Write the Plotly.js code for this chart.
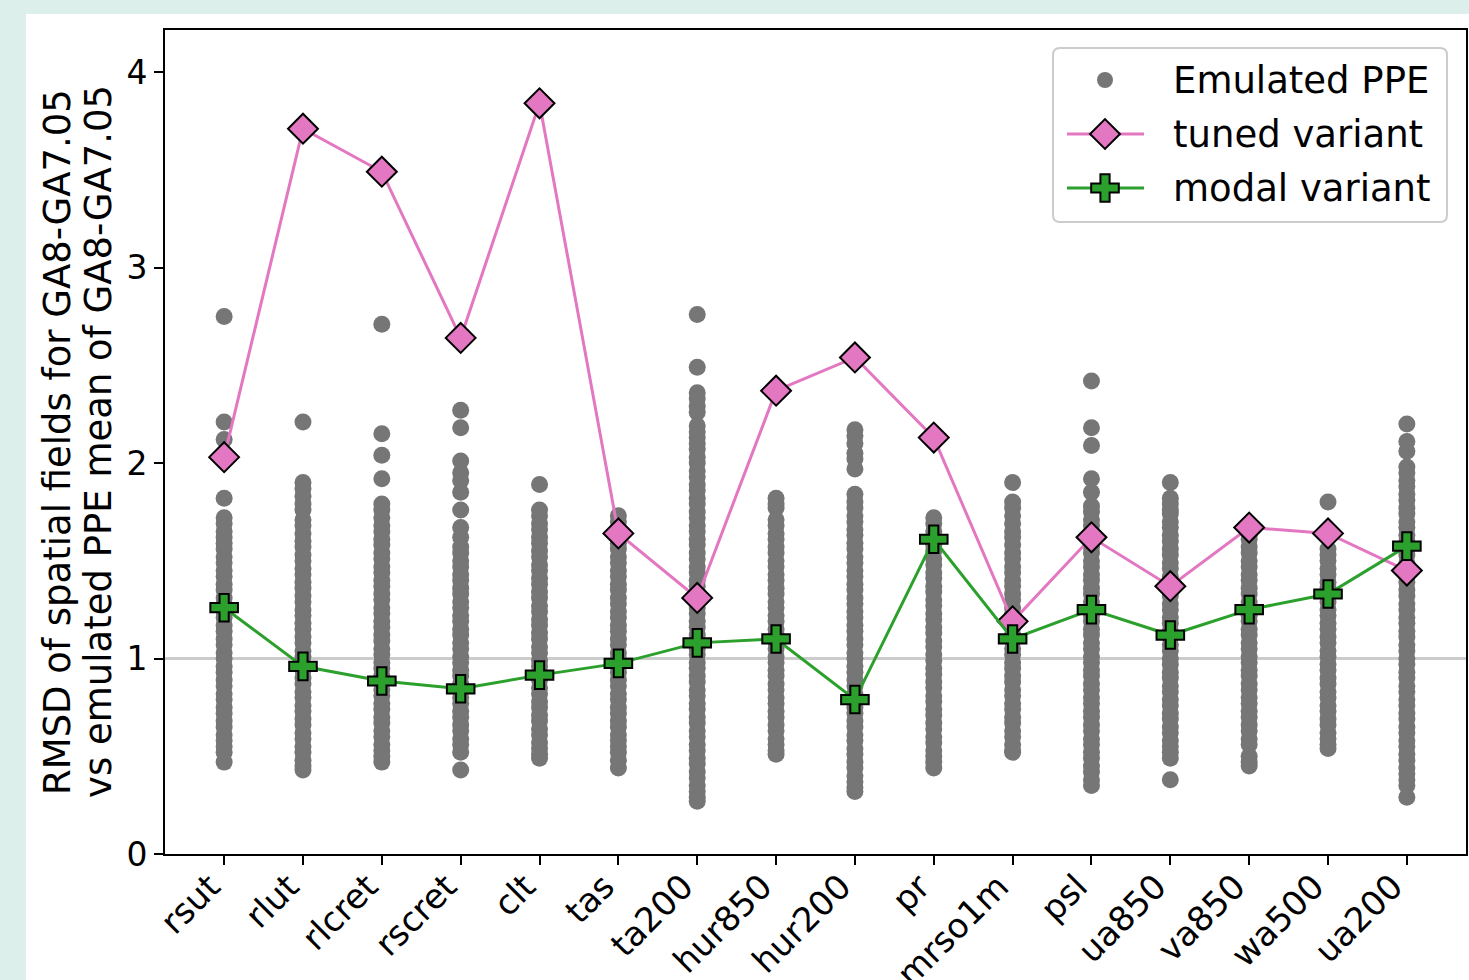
<!DOCTYPE html>
<html>
<head>
<meta charset="utf-8">
<script src="https://cdn.plot.ly/plotly-3.0.1.min.js"></script>
<style>
  html, body { margin: 0; padding: 0; background: #dcefeb; width: 1469px; height: 980px; overflow: hidden; }
  #chart { position: absolute; left: 26px; top: 14px; width: 1443px; height: 966px; background: #ffffff; }
</style>
</head>
<body>
<div id="chart"></div>
<script>
// Output fields compared against the GA8-GA7.05 emulated PPE mean
const categories = ['rsut', 'rlut', 'rlcret', 'rscret', 'clt', 'tas', 'ta200', 'hur850',
                    'hur200', 'pr', 'mrso1m', 'psl', 'ua850', 'va850', 'wa500', 'ua200'];

// RMSD of the tuned and modal variants
const tunedVariant = [2.03, 3.71, 3.49, 2.64, 3.84, 1.64, 1.31, 2.37,
                      2.54, 2.13, 1.19, 1.62, 1.37, 1.67, 1.64, 1.45];
const modalVariant = [1.26, 0.96, 0.885, 0.845, 0.915, 0.975, 1.08, 1.10,
                      0.79, 1.61, 1.10, 1.25, 1.12, 1.25, 1.33, 1.575];

// Emulated PPE members, one list per field
const ppeRsut = [2.75, 2.21, 2.12, 1.82, 1.72, 1.69, 1.65, 1.62, 1.59, 1.56, 1.52, 1.49, 1.45, 1.42, 1.38, 1.35,
  1.31, 1.28, 1.24, 1.21, 1.17, 1.14, 1.10, 1.07, 1.03, 1.00, 0.96, 0.93, 0.89, 0.86, 0.82, 0.79, 0.75, 0.72,
  0.68, 0.65, 0.61, 0.58, 0.55, 0.52, 0.47];
const ppeRlut = [2.21, 1.90, 1.87, 1.83, 1.79, 1.76, 1.71, 1.68, 1.64, 1.60, 1.57, 1.53, 1.50, 1.46, 1.43, 1.39,
  1.36, 1.32, 1.29, 1.25, 1.22, 1.18, 1.15, 1.11, 1.08, 1.04, 1.01, 0.97, 0.94, 0.90, 0.87, 0.83, 0.80, 0.76,
  0.73, 0.69, 0.66, 0.62, 0.59, 0.55, 0.52, 0.48, 0.45, 0.43];
const ppeRlcret = [2.71, 2.15, 2.04, 1.92, 1.79, 1.76, 1.72, 1.68, 1.65, 1.61, 1.58, 1.54, 1.51, 1.47, 1.44, 1.40,
  1.37, 1.33, 1.30, 1.26, 1.23, 1.19, 1.16, 1.12, 1.09, 1.05, 1.02, 0.98, 0.95, 0.91, 0.88, 0.84, 0.81, 0.77,
  0.74, 0.70, 0.67, 0.63, 0.60, 0.56, 0.53, 0.50, 0.47];
const ppeRscret = [2.27, 2.18, 2.01, 1.95, 1.91, 1.85, 1.76, 1.67, 1.62, 1.57, 1.54, 1.50, 1.47, 1.43, 1.40, 1.36,
  1.33, 1.29, 1.26, 1.22, 1.19, 1.15, 1.12, 1.08, 1.05, 1.01, 0.98, 0.94, 0.91, 0.87, 0.84, 0.80, 0.77, 0.73,
  0.70, 0.66, 0.63, 0.59, 0.56, 0.52, 0.43];
const ppeClt = [1.89, 1.76, 1.73, 1.69, 1.66, 1.62, 1.59, 1.55, 1.52, 1.48, 1.45, 1.41, 1.38, 1.34, 1.31, 1.27,
  1.24, 1.20, 1.17, 1.13, 1.10, 1.06, 1.03, 0.99, 0.96, 0.92, 0.89, 0.85, 0.82, 0.78, 0.75, 0.71, 0.68, 0.64,
  0.61, 0.57, 0.54, 0.51, 0.49];
const ppeTas = [1.73, 1.70, 1.66, 1.63, 1.59, 1.56, 1.52, 1.49, 1.45, 1.42, 1.38, 1.35, 1.31, 1.28, 1.24, 1.21,
  1.17, 1.14, 1.10, 1.07, 1.03, 1.00, 0.96, 0.93, 0.89, 0.86, 0.82, 0.79, 0.75, 0.72, 0.68, 0.65, 0.61, 0.58,
  0.55, 0.52, 0.48, 0.44];
const ppeTa200 = [2.76, 2.49, 2.36, 2.33, 2.29, 2.26, 2.19, 2.16, 2.13, 2.10, 2.07, 2.03, 2.00, 1.96, 1.93, 1.89,
  1.86, 1.82, 1.79, 1.75, 1.72, 1.68, 1.65, 1.61, 1.58, 1.54, 1.51, 1.47, 1.44, 1.40, 1.37, 1.33, 1.30, 1.26,
  1.23, 1.19, 1.16, 1.12, 1.09, 1.05, 1.02, 0.98, 0.95, 0.91, 0.88, 0.84, 0.81, 0.77, 0.74, 0.70, 0.67, 0.63,
  0.60, 0.56, 0.53, 0.49, 0.46, 0.42, 0.39, 0.35, 0.32, 0.29, 0.27];
const ppeHur850 = [1.82, 1.79, 1.77, 1.71, 1.68, 1.64, 1.61, 1.57, 1.54, 1.50, 1.47, 1.43, 1.40, 1.36, 1.33, 1.29,
  1.26, 1.22, 1.19, 1.15, 1.12, 1.08, 1.05, 1.01, 0.98, 0.94, 0.91, 0.87, 0.84, 0.80, 0.77, 0.73, 0.70, 0.66,
  0.63, 0.59, 0.56, 0.53, 0.51];
const ppeHur200 = [2.17, 2.14, 2.10, 2.05, 2.02, 1.97, 1.84, 1.80, 1.77, 1.73, 1.70, 1.66, 1.63, 1.59, 1.56, 1.52,
  1.49, 1.45, 1.42, 1.38, 1.35, 1.31, 1.28, 1.24, 1.21, 1.17, 1.14, 1.10, 1.07, 1.03, 1.00, 0.96, 0.93, 0.89,
  0.86, 0.82, 0.79, 0.75, 0.72, 0.68, 0.65, 0.61, 0.58, 0.54, 0.51, 0.47, 0.44, 0.40, 0.37, 0.34, 0.32];
const ppePr = [1.72, 1.69, 1.65, 1.62, 1.58, 1.55, 1.51, 1.48, 1.44, 1.41, 1.37, 1.34, 1.30, 1.27, 1.23, 1.20,
  1.16, 1.13, 1.09, 1.06, 1.02, 0.99, 0.95, 0.92, 0.88, 0.85, 0.81, 0.78, 0.74, 0.71, 0.67, 0.64, 0.60, 0.57,
  0.53, 0.50, 0.47, 0.44];
const ppeMrso1m = [1.90, 1.80, 1.77, 1.73, 1.69, 1.65, 1.62, 1.58, 1.54, 1.51, 1.47, 1.44, 1.40, 1.37, 1.33, 1.30,
  1.26, 1.23, 1.19, 1.16, 1.12, 1.09, 1.05, 1.02, 0.98, 0.95, 0.91, 0.88, 0.84, 0.81, 0.77, 0.74, 0.70, 0.67,
  0.63, 0.60, 0.56, 0.53, 0.52];
const ppePsl = [2.42, 2.18, 2.09, 1.92, 1.85, 1.78, 1.75, 1.71, 1.68, 1.64, 1.61, 1.57, 1.54, 1.50, 1.47, 1.43,
  1.40, 1.36, 1.33, 1.29, 1.26, 1.22, 1.19, 1.15, 1.12, 1.08, 1.05, 1.01, 0.98, 0.94, 0.91, 0.87, 0.84, 0.80,
  0.77, 0.73, 0.70, 0.66, 0.63, 0.59, 0.56, 0.52, 0.49, 0.45, 0.42, 0.38, 0.35];
const ppeUa850 = [1.90, 1.82, 1.79, 1.76, 1.74, 1.70, 1.67, 1.63, 1.60, 1.56, 1.53, 1.49, 1.46, 1.42, 1.39, 1.35,
  1.32, 1.28, 1.25, 1.21, 1.18, 1.14, 1.11, 1.07, 1.04, 1.00, 0.97, 0.93, 0.90, 0.86, 0.83, 0.79, 0.76, 0.72,
  0.69, 0.65, 0.62, 0.58, 0.55, 0.52, 0.49, 0.38];
const ppeVa850 = [1.63, 1.61, 1.57, 1.54, 1.50, 1.47, 1.43, 1.40, 1.36, 1.33, 1.29, 1.26, 1.22, 1.19, 1.15, 1.12,
  1.08, 1.05, 1.01, 0.98, 0.94, 0.91, 0.87, 0.84, 0.80, 0.77, 0.73, 0.70, 0.66, 0.63, 0.59, 0.56, 0.50, 0.47,
  0.45];
const ppeWa500 = [1.80, 1.56, 1.53, 1.50, 1.46, 1.43, 1.39, 1.36, 1.32, 1.29, 1.25, 1.22, 1.18, 1.15, 1.11, 1.08,
  1.04, 1.01, 0.97, 0.94, 0.90, 0.87, 0.83, 0.80, 0.76, 0.73, 0.69, 0.66, 0.62, 0.59, 0.56, 0.54];
const ppeUa200 = [2.20, 2.11, 2.06, 1.98, 1.95, 1.91, 1.88, 1.84, 1.81, 1.77, 1.74, 1.70, 1.67, 1.63, 1.60, 1.56,
  1.53, 1.49, 1.46, 1.42, 1.39, 1.35, 1.32, 1.28, 1.25, 1.21, 1.18, 1.14, 1.11, 1.07, 1.04, 1.00, 0.97, 0.93,
  0.90, 0.86, 0.83, 0.79, 0.76, 0.72, 0.69, 0.65, 0.62, 0.58, 0.55, 0.51, 0.48, 0.44, 0.41, 0.38, 0.35, 0.29];

const ppeColumns = [ppeRsut, ppeRlut, ppeRlcret, ppeRscret, ppeClt, ppeTas, ppeTa200, ppeHur850,
                    ppeHur200, ppePr, ppeMrso1m, ppePsl, ppeUa850, ppeVa850, ppeWa500, ppeUa200];

const yTicks = [0, 1, 2, 3, 4];
const referenceLevel = 1;
const legendLabels = ['Emulated PPE', 'tuned variant', 'modal variant'];

// ---- styling ----
const FONT = 'DejaVu Sans, Liberation Sans, sans-serif';
const GREY = '#767676';
const PINK = '#e377c2';
const GREEN = '#2ca02c';
const W = 1443, H = 966;
const M = {l: 139, r: 3, t: 16, b: 126};
const PW = W - M.l - M.r;   // plot width in px
const PH = H - M.t - M.b;   // plot height in px

// flatten the PPE columns into one scatter trace
const ppeX = [], ppeY = [];
ppeColumns.forEach((col, i) => col.forEach(v => { ppeX.push(categories[i]); ppeY.push(v); }));

const traces = [
  {
    type: 'scatter', mode: 'markers', x: ppeX, y: ppeY, name: legendLabels[0],
    marker: {color: GREY, size: 17, line: {width: 0}},
    showlegend: false, hoverinfo: 'skip'
  },
  {
    type: 'scatter', mode: 'lines+markers', x: categories, y: tunedVariant, name: legendLabels[1],
    line: {color: PINK, width: 3},
    marker: {symbol: 'diamond', color: PINK, size: 23, line: {color: '#000000', width: 2}},
    showlegend: false
  },
  {
    type: 'scatter', mode: 'lines+markers', x: categories, y: modalVariant, name: legendLabels[2],
    line: {color: GREEN, width: 3},
    marker: {symbol: 'cross', color: GREEN, size: 23, line: {color: '#000000', width: 2}},
    showlegend: false
  }
];

// legend drawn on a hidden pixel-unit overlay axis pair (x2/y2)
const LG = {x0: 888, x1: 1282, y0: 18, y1: 192, r: 7, sampleX: 940, lineX0: 902, lineX1: 979,
            textX: 1006, rows: [50, 104, 158]};
traces.push(
  {type: 'scatter', mode: 'markers', xaxis: 'x2', yaxis: 'y2', x: [LG.sampleX], y: [LG.rows[0]],
   marker: {color: GREY, size: 16}, showlegend: false, hoverinfo: 'skip'},
  {type: 'scatter', mode: 'lines', xaxis: 'x2', yaxis: 'y2', x: [LG.lineX0, LG.lineX1], y: [LG.rows[1], LG.rows[1]],
   line: {color: PINK, width: 3}, showlegend: false, hoverinfo: 'skip'},
  {type: 'scatter', mode: 'markers', xaxis: 'x2', yaxis: 'y2', x: [LG.sampleX], y: [LG.rows[1]],
   marker: {symbol: 'diamond', color: PINK, size: 23, line: {color: '#000000', width: 2}}, showlegend: false, hoverinfo: 'skip'},
  {type: 'scatter', mode: 'lines', xaxis: 'x2', yaxis: 'y2', x: [LG.lineX0, LG.lineX1], y: [LG.rows[2], LG.rows[2]],
   line: {color: GREEN, width: 3}, showlegend: false, hoverinfo: 'skip'},
  {type: 'scatter', mode: 'markers', xaxis: 'x2', yaxis: 'y2', x: [LG.sampleX], y: [LG.rows[2]],
   marker: {symbol: 'cross', color: GREEN, size: 23, line: {color: '#000000', width: 2}}, showlegend: false, hoverinfo: 'skip'}
);

const r = LG.r;
const legendBox = `M ${LG.x0 + r},${LG.y0} L ${LG.x1 - r},${LG.y0} Q ${LG.x1},${LG.y0} ${LG.x1},${LG.y0 + r} ` +
  `L ${LG.x1},${LG.y1 - r} Q ${LG.x1},${LG.y1} ${LG.x1 - r},${LG.y1} L ${LG.x0 + r},${LG.y1} ` +
  `Q ${LG.x0},${LG.y1} ${LG.x0},${LG.y1 - r} L ${LG.x0},${LG.y0 + r} Q ${LG.x0},${LG.y0} ${LG.x0 + r},${LG.y0} Z`;

const layout = {
  width: W, height: H,
  margin: M,
  paper_bgcolor: '#ffffff', plot_bgcolor: '#ffffff',
  font: {family: FONT, color: '#000000', size: 33},
  showlegend: false,
  xaxis: {
    type: 'category', categoryorder: 'array', categoryarray: categories,
    range: [-0.75, categories.length - 0.25],
    showgrid: false, zeroline: false,
    showline: true, mirror: true, linecolor: '#000000', linewidth: 2,
    ticks: 'outside', ticklen: 9, tickwidth: 2, tickcolor: '#000000',
    tickangle: -45, tickfont: {size: 34, family: FONT, color: '#000000'},
    ticklabelshift: -14, ticklabelstandoff: -12,
    automargin: false, fixedrange: true
  },
  yaxis: {
    range: [0, 4.215], tickvals: yTicks, ticktext: yTicks.map(String),
    showgrid: false, zeroline: false,
    showline: true, mirror: true, linecolor: '#000000', linewidth: 2,
    ticks: 'outside', ticklen: 9, tickwidth: 2, tickcolor: '#000000',
    tickfont: {size: 33, family: FONT, color: '#000000'},
    automargin: false, fixedrange: true
  },
  xaxis2: {overlaying: 'x', range: [0, PW], visible: false, fixedrange: true},
  yaxis2: {overlaying: 'y', range: [PH, 0], visible: false, fixedrange: true},
  shapes: [
    {type: 'line', xref: 'paper', x0: 0, x1: 1, yref: 'y', y0: referenceLevel, y1: referenceLevel,
     line: {color: '#cccccc', width: 3}, layer: 'below'},
    {type: 'path', xref: 'x2', yref: 'y2', path: legendBox,
     fillcolor: 'rgba(255,255,255,0.8)', line: {color: '#cccccc', width: 2}, layer: 'below'}
  ],
  annotations: [
    {xref: 'paper', yref: 'paper', x: 0, y: 0.5, xanchor: 'center', yanchor: 'middle', xshift: -108,
     textangle: -90, showarrow: false, text: 'RMSD of spatial fields for GA8-GA7.05',
     font: {size: 37, family: FONT, color: '#000000'}},
    {xref: 'paper', yref: 'paper', x: 0, y: 0.5, xanchor: 'center', yanchor: 'middle', xshift: -67,
     textangle: -90, showarrow: false, text: 'vs emulated PPE mean of GA8-GA7.05',
     font: {size: 37, family: FONT, color: '#000000'}}
  ].concat(legendLabels.map((t, i) => ({
    xref: 'x2', yref: 'y2', x: LG.textX, y: LG.rows[i], xanchor: 'left', yanchor: 'middle',
    showarrow: false, text: t, font: {size: 37, family: FONT, color: '#000000'}
  })))
};

Plotly.newPlot('chart', traces, layout, {displayModeBar: false, staticPlot: true});
</script>
</body>
</html>
